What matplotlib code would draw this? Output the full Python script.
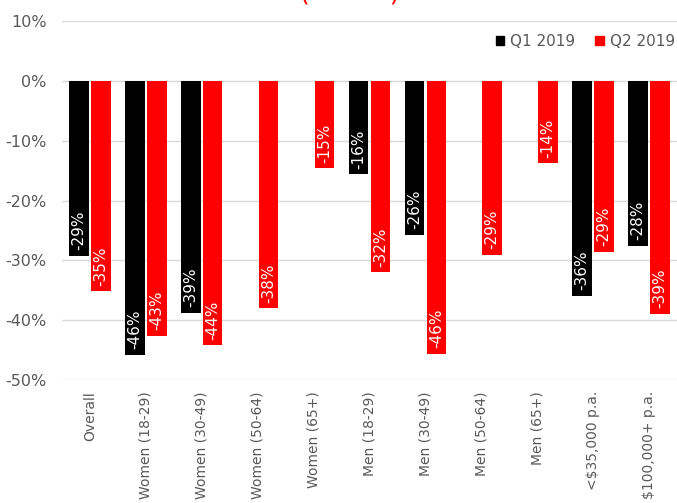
import numpy as np
import matplotlib
matplotlib.use("Agg")
import matplotlib.pyplot as plt
from matplotlib.patches import Patch

plt.rcParams["axes.unicode_minus"] = False

categories = ["Overall", "Women (18-29)", "Women (30-49)", "Women (50-64)", "Women (65+)",
              "Men (18-29)", "Men (30-49)", "Men (50-64)", "Men (65+)",
              "<$35,000 p.a.", "$100,000+ p.a."]
q1_2019 = [-29.2, -45.8, -38.8, np.nan, np.nan, -15.6, -25.7, np.nan, np.nan, -35.9, -27.6]
q2_2019 = [-35.2, -42.6, -44.2, -38.0, -14.6, -32.0, -45.6, -29.1, -13.8, -28.6, -38.9]
series_names = ["Q1 2019", "Q2 2019"]
yticks = [10, 0, -10, -20, -30, -40, -50]

GRAY = "#595959"
fig = plt.figure(figsize=(6.77, 5.03), dpi=100)
ax = fig.add_axes([0.0916, 0.2445, 0.9084, 0.7135])

x = np.arange(len(categories))
w = 0.35
off = 0.195
colors = ["#000000", "#FF0000"]
for vals, dx, c in [(q1_2019, -off, colors[0]), (q2_2019, off, colors[1])]:
    ax.bar(x + dx, vals, width=w, color=c, zorder=3)
    for xi, v in zip(x, vals):
        if np.isnan(v):
            continue
        ax.annotate(f"{int(round(v))}%", (xi + dx, v), xytext=(0, 4), textcoords="offset points",
                    rotation=90, ha="center", va="bottom", color="white", fontsize=11, zorder=4)

ax.set_xlim(-0.5, len(categories) - 0.5)
ax.set_ylim(-50, 10)
ax.set_yticks(yticks)
ax.set_yticklabels([f"{t}%" for t in yticks], color=GRAY, fontsize=11.5)
ax.set_xticks(x)
ax.set_xticklabels(categories, rotation=90, color=GRAY, fontsize=10, va="top")
ax.tick_params(axis="both", length=0)
ax.tick_params(axis="y", pad=11)
ax.tick_params(axis="x", pad=8)
ax.grid(axis="y", color="#D9D9D9", linewidth=1, zorder=0)
for s in ax.spines.values():
    s.set_visible(False)

handles = [Patch(facecolor=c, edgecolor=c) for c in colors]
leg = fig.legend(handles, series_names, loc="center right", bbox_to_anchor=(0.997, 0.918), ncol=2,
                 frameon=False, handlelength=0.55, handleheight=0.55, handletextpad=0.4,
                 columnspacing=1.3, fontsize=11, borderaxespad=0, borderpad=0)
for t in leg.get_texts():
    t.set_color(GRAY)

fig.text(0.516, 1.0, "(          )", color="#FF0000", fontsize=18, ha="center", va="baseline")

fig.savefig("out.png", dpi=100)
